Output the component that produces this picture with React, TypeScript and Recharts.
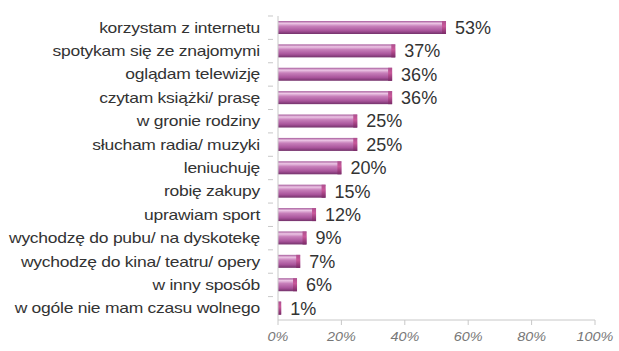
import React from "react";
import { BarChart, Bar, XAxis, YAxis, LabelList } from "recharts";

const categories = [
  "korzystam z internetu",
  "spotykam się ze znajomymi",
  "oglądam telewizję",
  "czytam książki/ prasę",
  "w gronie rodziny",
  "słucham radia/ muzyki",
  "leniuchuję",
  "robię zakupy",
  "uprawiam sport",
  "wychodzę do pubu/ na dyskotekę",
  "wychodzę do kina/ teatru/ opery",
  "w inny sposób",
  "w ogóle nie mam czasu wolnego",
];
const values = [53, 37, 36, 36, 25, 25, 20, 15, 12, 9, 7, 6, 1];
const xTicks = [0, 20, 40, 60, 80, 100];

const data = categories.map((name, i) => ({ name, value: values[i] }));

const CatTick = (props: any) => {
  const { x, y, payload } = props;
  const half = 11.7;
  return (
    <g>
      <line x1={x + 12} y1={y - half} x2={x + 17} y2={y - half} stroke="#c8c8c8" />
      <text
        transform={`translate(${x + 4},${y}) scale(1.25,1)`}
        x={0}
        y={0}
        dy={5}
        textAnchor="end"
        fill="#333"
        fontSize={14}
        fontFamily="Liberation Sans, Arial, sans-serif"
        letterSpacing={-0.2}
      >
        {payload.value}
      </text>
    </g>
  );
};

const NumTick = (props: any) => {
  const { x, y, payload } = props;
  return (
    <text
      transform={`translate(${x},${y}) scale(1.2,1)`}
      x={0}
      y={0}
      dy={12}
      textAnchor="middle"
      fill="#777"
      fontSize={12}
      fontStyle="italic"
      fontFamily="Liberation Sans, Arial, sans-serif"
    >
      {`${payload.value}%`}
    </text>
  );
};

const CylBar = (props: any) => {
  const { x, y, width, height } = props;
  if (width <= 0) return null;
  const cap = Math.min(4, width);
  return (
    <g>
      <rect x={x} y={y} width={width} height={height} fill="url(#barGrad)" />
      <rect x={x + width - cap} y={y} width={cap} height={height} fill="url(#capGrad)" />
    </g>
  );
};

export default function App() {
  return (
    <div style={{ position: "absolute", left: 0, top: 0, background: "#fff" }}>
      <BarChart
        width={619}
        height={351}
        data={data}
        layout="vertical"
        margin={{ top: 16, right: 24, bottom: 0, left: 0 }}
        barCategoryGap={5}
      >
        <defs>
          <linearGradient id="barGrad" x1="0" y1="0" x2="0" y2="1">
            <stop offset="0" stopColor="#a5589a" />
            <stop offset="0.18" stopColor="#ecc6e5" />
            <stop offset="0.4" stopColor="#c77fba" />
            <stop offset="0.75" stopColor="#a9549b" />
            <stop offset="1" stopColor="#74326b" />
          </linearGradient>
          <linearGradient id="capGrad" x1="0" y1="0" x2="0" y2="1">
            <stop offset="0" stopColor="#b0508f" />
            <stop offset="0.4" stopColor="#c8589a" />
            <stop offset="1" stopColor="#7a2a68" />
          </linearGradient>
        </defs>
        <XAxis
          type="number"
          domain={[0, 100]}
          ticks={xTicks}
          stroke="#c8c8c8"
          tickSize={5}
          tickMargin={4}
          height={31}
          tick={<NumTick />}
        />
        <YAxis
          type="category"
          dataKey="name"
          width={278}
          stroke="#c8c8c8"
          tickLine={false}
          tickMargin={16}
          interval={0}
          tick={<CatTick />}
        />
        <Bar dataKey="value" isAnimationActive={false} shape={<CylBar />} barSize={13}>
          <LabelList
            dataKey="value"
            position="right"
            offset={9}
            formatter={(v: number) => `${v}%`}
            fill="#333"
            fontSize={18}
            fontFamily="Liberation Sans, Arial, sans-serif"
          />
        </Bar>
      </BarChart>
    </div>
  );
}
